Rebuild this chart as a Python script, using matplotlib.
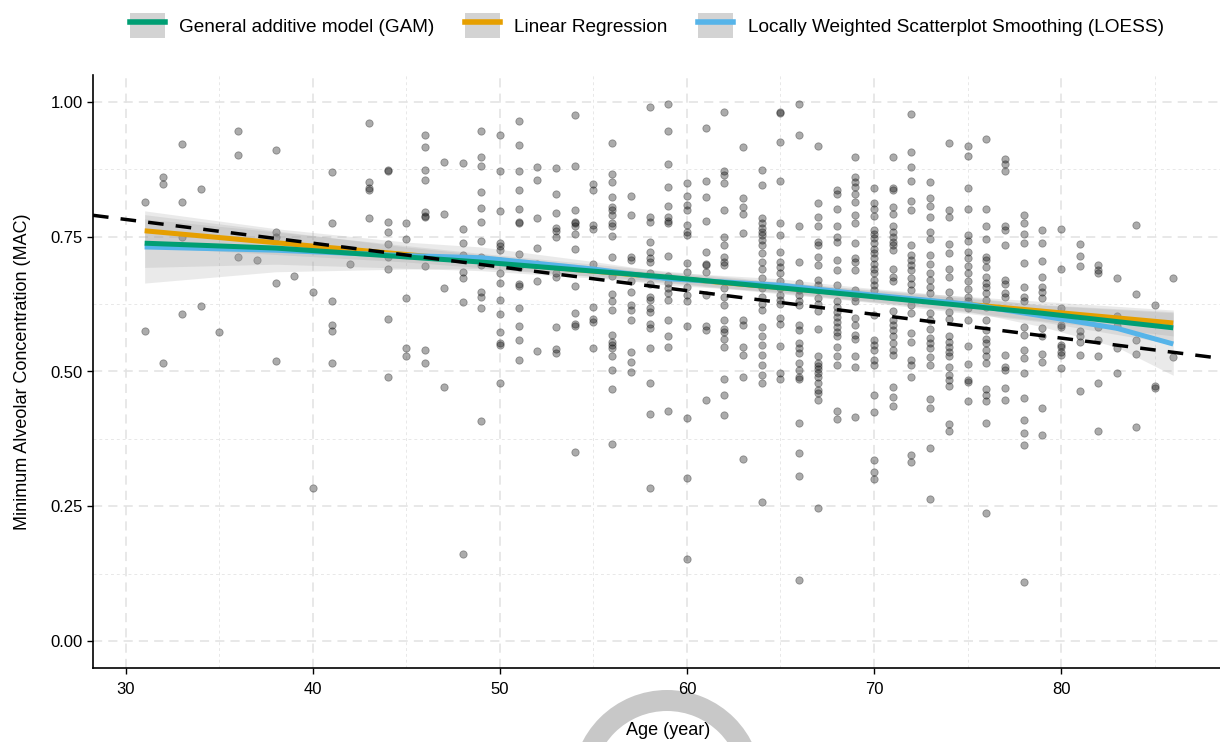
import matplotlib
matplotlib.use("Agg")
import numpy as np
import matplotlib.pyplot as plt
from matplotlib.lines import Line2D
from matplotlib.patches import Patch, Wedge
from matplotlib.legend_handler import HandlerTuple
from matplotlib.ticker import MultipleLocator

plt.rcParams["font.family"] = ["Liberation Sans", "DejaVu Sans"]

# ── Observed MAC, one inner list per year of age ──────────────────────────────
ages_30s = list(range(31, 40))
mac_30s = [
    [0.815, 0.576],
    [0.860, 0.848, 0.516],
    [0.922, 0.815, 0.750, 0.607],
    [0.839, 0.621],
    [0.573],
    [0.946, 0.902, 0.712],
    [0.706],
    [0.910, 0.759, 0.749, 0.665, 0.520],
    [0.678],
]

ages_40s = list(range(40, 50))
mac_40s = [
    [0.648, 0.283],
    [0.870, 0.776, 0.630, 0.586, 0.576, 0.516],
    [0.699],
    [0.961, 0.852, 0.841, 0.837, 0.785],
    [0.874, 0.872, 0.777, 0.759, 0.737, 0.713, 0.691, 0.598, 0.490],
    [0.776, 0.746, 0.636, 0.544, 0.528],
    [0.939, 0.917, 0.874, 0.855, 0.795, 0.789, 0.786, 0.696, 0.539, 0.516],
    [0.888, 0.793, 0.654, 0.471],
    [0.886, 0.765, 0.739, 0.717, 0.685, 0.673, 0.628, 0.162],
    [0.946, 0.897, 0.881, 0.833, 0.804, 0.778, 0.743, 0.713, 0.697, 0.648,
     0.639, 0.617, 0.408],
]

ages_50s = list(range(50, 60))
mac_50s = [
    [0.939, 0.872, 0.798, 0.739, 0.733, 0.725, 0.705, 0.683, 0.665, 0.633,
     0.606, 0.574, 0.553, 0.550, 0.479],
    [0.964, 0.921, 0.872, 0.836, 0.801, 0.778, 0.776, 0.718, 0.693, 0.663,
     0.659, 0.618, 0.584, 0.558, 0.521],
    [0.880, 0.855, 0.785, 0.730, 0.699, 0.668, 0.538],
    [0.878, 0.829, 0.794, 0.767, 0.761, 0.749, 0.682, 0.676, 0.582, 0.541,
     0.535],
    [0.976, 0.881, 0.800, 0.778, 0.776, 0.769, 0.755, 0.727, 0.659, 0.609,
     0.588, 0.585, 0.351],
    [0.848, 0.837, 0.771, 0.764, 0.699, 0.620, 0.597, 0.591, 0.544],
    [0.923, 0.866, 0.852, 0.824, 0.806, 0.800, 0.790, 0.775, 0.769, 0.752,
     0.712, 0.677, 0.643, 0.631, 0.614, 0.568, 0.555, 0.549, 0.543, 0.528,
     0.503, 0.468, 0.366],
    [0.825, 0.790, 0.713, 0.707, 0.667, 0.648, 0.623, 0.614, 0.596, 0.537,
     0.517, 0.499],
    [0.991, 0.786, 0.778, 0.740, 0.722, 0.710, 0.704, 0.682, 0.663, 0.639,
     0.633, 0.617, 0.611, 0.589, 0.580, 0.544, 0.478, 0.422, 0.284],
    [0.996, 0.946, 0.884, 0.843, 0.807, 0.787, 0.779, 0.775, 0.715, 0.677,
     0.665, 0.654, 0.645, 0.633, 0.596, 0.566, 0.546, 0.427],
]

ages_60s = list(range(60, 70))
mac_60s = [
    [0.849, 0.826, 0.808, 0.800, 0.772, 0.759, 0.753, 0.702, 0.685, 0.657,
     0.642, 0.631, 0.585, 0.414, 0.303, 0.153],
    [0.952, 0.854, 0.824, 0.779, 0.722, 0.700, 0.698, 0.685, 0.641, 0.584,
     0.577, 0.447],
    [0.981, 0.871, 0.865, 0.849, 0.800, 0.750, 0.735, 0.713, 0.704, 0.698,
     0.654, 0.639, 0.623, 0.596, 0.578, 0.573, 0.561, 0.546, 0.487, 0.456,
     0.419],
    [0.917, 0.821, 0.806, 0.792, 0.757, 0.596, 0.586, 0.546, 0.531, 0.490,
     0.337],
    [0.874, 0.846, 0.784, 0.775, 0.766, 0.759, 0.753, 0.744, 0.735, 0.719,
     0.704, 0.691, 0.673, 0.654, 0.639, 0.626, 0.614, 0.583, 0.565, 0.549,
     0.531, 0.512, 0.494, 0.478, 0.257],
    [0.981, 0.979, 0.926, 0.853, 0.776, 0.753, 0.722, 0.704, 0.694, 0.682,
     0.667, 0.654, 0.642, 0.633, 0.626, 0.599, 0.589, 0.548, 0.498, 0.487],
    [0.997, 0.939, 0.770, 0.704, 0.665, 0.651, 0.642, 0.631, 0.623, 0.586,
     0.577, 0.552, 0.543, 0.534, 0.516, 0.503, 0.490, 0.487, 0.405, 0.349,
     0.307, 0.114],
    [0.918, 0.812, 0.787, 0.769, 0.741, 0.735, 0.713, 0.698, 0.670, 0.660,
     0.651, 0.636, 0.626, 0.613, 0.578, 0.528, 0.516, 0.510, 0.504, 0.497,
     0.490, 0.478, 0.466, 0.460, 0.448, 0.247],
    [0.837, 0.830, 0.802, 0.769, 0.750, 0.741, 0.707, 0.688, 0.660, 0.630,
     0.620, 0.611, 0.602, 0.592, 0.583, 0.574, 0.565, 0.546, 0.528, 0.512,
     0.427, 0.411],
    [0.897, 0.861, 0.852, 0.843, 0.830, 0.815, 0.790, 0.775, 0.739, 0.710,
     0.704, 0.688, 0.651, 0.639, 0.630, 0.599, 0.586, 0.568, 0.561, 0.528,
     0.509, 0.416],
]

ages_70s = list(range(70, 80))
mac_70s = [
    [0.840, 0.812, 0.802, 0.788, 0.763, 0.755, 0.747, 0.738, 0.728, 0.719,
     0.710, 0.700, 0.691, 0.682, 0.670, 0.660, 0.651, 0.605, 0.558, 0.549,
     0.540, 0.521, 0.512, 0.456, 0.425, 0.336, 0.314, 0.301],
    [0.897, 0.840, 0.837, 0.806, 0.793, 0.770, 0.758, 0.750, 0.741, 0.735,
     0.725, 0.691, 0.676, 0.667, 0.612, 0.596, 0.586, 0.577, 0.565, 0.552,
     0.540, 0.531, 0.471, 0.453, 0.436],
    [0.978, 0.907, 0.879, 0.854, 0.816, 0.800, 0.735, 0.716, 0.707, 0.698,
     0.688, 0.673, 0.663, 0.651, 0.623, 0.608, 0.571, 0.555, 0.521, 0.512,
     0.489, 0.345, 0.333],
    [0.852, 0.821, 0.807, 0.786, 0.758, 0.746, 0.716, 0.699, 0.682, 0.670,
     0.657, 0.645, 0.609, 0.596, 0.578, 0.563, 0.552, 0.543, 0.526, 0.512,
     0.449, 0.433, 0.359, 0.263],
    [0.924, 0.800, 0.787, 0.737, 0.720, 0.691, 0.676, 0.648, 0.633, 0.611,
     0.597, 0.565, 0.555, 0.546, 0.537, 0.528, 0.509, 0.494, 0.484, 0.473,
     0.402, 0.390],
    [0.919, 0.900, 0.840, 0.801, 0.753, 0.743, 0.722, 0.710, 0.696, 0.682,
     0.667, 0.653, 0.639, 0.630, 0.617, 0.596, 0.547, 0.514, 0.484, 0.481,
     0.445],
    [0.932, 0.801, 0.770, 0.746, 0.713, 0.707, 0.694, 0.676, 0.665, 0.656,
     0.645, 0.633, 0.620, 0.596, 0.577, 0.561, 0.552, 0.540, 0.528, 0.516,
     0.468, 0.456, 0.445, 0.404, 0.238],
    [0.894, 0.885, 0.871, 0.769, 0.763, 0.735, 0.670, 0.662, 0.645, 0.638,
     0.531, 0.508, 0.503, 0.470, 0.447],
    [0.790, 0.775, 0.755, 0.739, 0.702, 0.657, 0.638, 0.630, 0.583, 0.568,
     0.540, 0.525, 0.498, 0.450, 0.410, 0.385, 0.364, 0.110],
    [0.763, 0.738, 0.705, 0.676, 0.657, 0.648, 0.636, 0.580, 0.565, 0.532,
     0.518, 0.432, 0.382],
]

ages_80s = list(range(80, 87))
mac_80s = [
    [0.764, 0.691, 0.617, 0.586, 0.583, 0.549, 0.546, 0.537, 0.531, 0.506],
    [0.736, 0.715, 0.696, 0.576, 0.566, 0.555, 0.531, 0.464],
    [0.698, 0.688, 0.682, 0.582, 0.558, 0.529, 0.478, 0.389],
    [0.674, 0.603, 0.584, 0.544, 0.498],
    [0.771, 0.644, 0.558, 0.532, 0.397],
    [0.623, 0.473, 0.469],
    [0.674, 0.526],
]

# ── Fitted curves ─────────────────────────────────────────────────────────────
lm_age = [31, 45, 58, 72, 86]
lm_fit = [0.761, 0.717, 0.677, 0.634, 0.590]
lm_se = [0.030, 0.014, 0.008, 0.012, 0.024]

gam_age = [31, 38, 49, 59, 69, 79, 86]
gam_fit = [0.738, 0.729, 0.703, 0.675, 0.642, 0.608, 0.581]
gam_se = [0.045, 0.030, 0.016, 0.011, 0.011, 0.016, 0.030]

loess_age = [31, 38, 45, 49, 55, 59, 65, 69, 75, 79, 83, 86]
loess_fit = [0.731, 0.725, 0.715, 0.711, 0.690, 0.672, 0.660, 0.645, 0.625,
             0.603, 0.580, 0.551]
loess_se = [0.067, 0.040, 0.025, 0.020, 0.014, 0.012, 0.012, 0.012, 0.013,
            0.020, 0.035, 0.058]

# dashed reference line
ref_at_30 = 0.782
ref_slope = -0.0044

labels = ["General additive model (GAM)", "Linear Regression",
          "Locally Weighted Scatterplot Smoothing (LOESS)"]
colors = ["#009E73", "#E69F00", "#56B4E9"]

# ── Flatten observations ──────────────────────────────────────────────────────
age_x, mac_y = [], []
for ages, groups in [(ages_30s, mac_30s), (ages_40s, mac_40s),
                     (ages_50s, mac_50s), (ages_60s, mac_60s),
                     (ages_70s, mac_70s), (ages_80s, mac_80s)]:
    for a, vals in zip(ages, groups):
        age_x += [a] * len(vals)
        mac_y += vals

# ── Plot ──────────────────────────────────────────────────────────────────────
fig = plt.figure(figsize=(12.2, 7.42), dpi=100)
ax = fig.add_axes([93 / 1220, 74 / 742, 1 - 93 / 1220, 593 / 742])

ax.scatter(age_x, mac_y, s=28, facecolor="black", edgecolor="black",
           linewidths=0.6, alpha=0.33, zorder=2)

band_kw = dict(color="#999999", alpha=0.2, linewidth=0, zorder=3)
for a, f, se in [(lm_age, lm_fit, lm_se), (gam_age, gam_fit, gam_se),
                 (loess_age, loess_fit, loess_se)]:
    f, se = np.array(f), np.array(se)
    ax.fill_between(a, f - se, f + se, **band_kw)

ax.plot(lm_age, lm_fit, color=colors[1], lw=3.6, zorder=4,
        solid_capstyle="butt")
ax.plot(loess_age, loess_fit, color=colors[2], lw=3.6, zorder=5,
        solid_capstyle="butt")
ax.plot(gam_age, gam_fit, color=colors[0], lw=3.6, zorder=6,
        solid_capstyle="butt")

xmin, xmax = 28.24, 88.5
ref_x = np.array([xmin, xmax])
ax.plot(ref_x, ref_at_30 + ref_slope * (ref_x - 30), color="black", lw=2.5,
        linestyle=(0, (4.5, 3.5)), zorder=7)

ax.set_xlim(xmin, xmax)
ax.set_ylim(-0.05, 1.05)
ax.xaxis.set_major_locator(MultipleLocator(10))
ax.xaxis.set_minor_locator(MultipleLocator(5))
ax.yaxis.set_major_locator(MultipleLocator(0.25))
ax.yaxis.set_minor_locator(MultipleLocator(0.125))
ax.yaxis.set_major_formatter(plt.FuncFormatter(lambda v, p: f"{v:.2f}"))

ax.grid(which="major", color="#e2e2e2", lw=1.1, linestyle=(0, (6, 4)), zorder=0)
ax.grid(which="minor", color="#e8e8e8", lw=0.7, linestyle=(0, (3, 3)), zorder=0)
ax.set_axisbelow(True)

for s in ["top", "right"]:
    ax.spines[s].set_visible(False)
for s in ["left", "bottom"]:
    ax.spines[s].set_linewidth(1.2)
ax.tick_params(which="major", length=4, width=1, labelsize=12, colors="black")
ax.tick_params(axis="x", which="major", pad=6)
ax.tick_params(which="minor", length=0)

ax.set_xlabel("Age (year)", fontsize=13, labelpad=18)
ax.xaxis.label.set_x(0.51)
ax.set_ylabel("Minimum Alveolar Concentration (MAC)", fontsize=13, labelpad=14)

handles = [(Patch(facecolor="#d3d3d3", edgecolor="none"),
            Line2D([], [], color=c, lw=4)) for c in colors]
fig.legend(handles, labels, handler_map={tuple: HandlerTuple(ndivide=1, pad=0)},
           loc="upper center", bbox_to_anchor=(0.53, 1.006), ncol=3,
           frameon=False, fontsize=13.7, handlelength=1.85, handleheight=1.7,
           handletextpad=0.75, columnspacing=1.6)

# faint ring watermark at the bottom
fig.add_artist(Wedge((6.67, -0.43), 0.95, 0, 360, width=0.21,
                     facecolor="#c8c8c8", edgecolor="none",
                     transform=fig.dpi_scale_trans, zorder=-1))

fig.savefig("out.png", dpi=100)
